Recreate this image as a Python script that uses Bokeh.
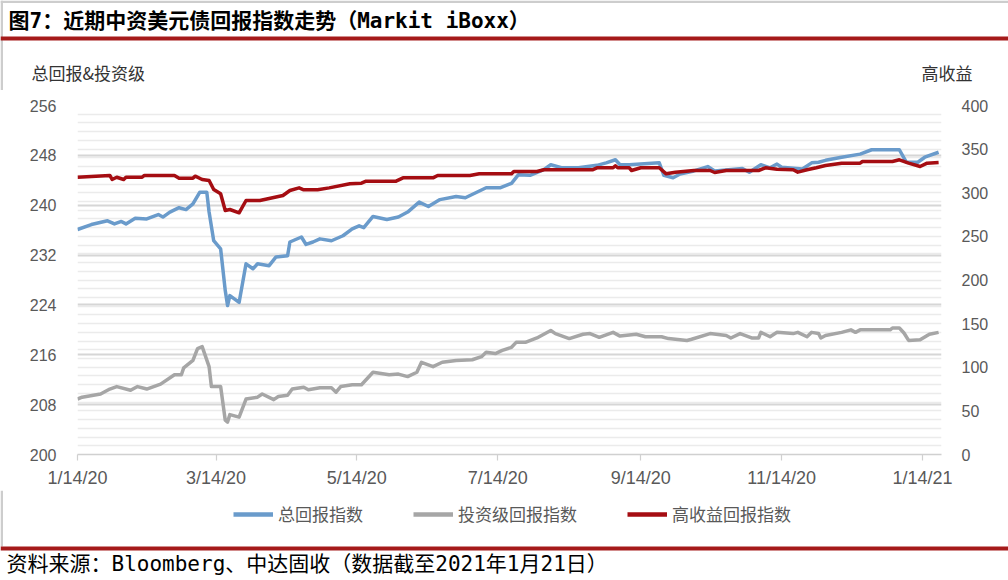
import pandas as pd
from bokeh.plotting import figure
from bokeh.layouts import column
from bokeh.models import (Range1d, LinearAxis, FixedTicker, Grid, Legend, LegendItem, Label)
from bokeh.embed import file_html
from bokeh.resources import INLINE

# ---------------- data ----------------
total_dates = ["2020-01-14", "2020-01-20", "2020-01-27", "2020-01-30", "2020-02-02", "2020-02-04",
               "2020-02-08", "2020-02-13", "2020-02-18", "2020-02-20", "2020-02-23", "2020-02-27",
               "2020-03-01", "2020-03-04", "2020-03-07", "2020-03-10", "2020-03-11", "2020-03-13",
               "2020-03-16", "2020-03-18", "2020-03-19", "2020-03-20", "2020-03-24", "2020-03-27",
               "2020-03-30", "2020-04-01", "2020-04-06", "2020-04-09", "2020-04-14", "2020-04-15",
               "2020-04-20", "2020-04-22", "2020-04-25", "2020-04-28", "2020-05-03", "2020-05-08",
               "2020-05-12", "2020-05-15", "2020-05-17", "2020-05-21", "2020-05-27", "2020-06-01",
               "2020-06-05", "2020-06-10", "2020-06-14", "2020-06-19", "2020-06-26", "2020-06-30",
               "2020-07-09", "2020-07-15", "2020-07-20", "2020-07-23", "2020-07-28", "2020-08-03",
               "2020-08-06", "2020-08-11", "2020-08-18", "2020-08-26", "2020-08-30", "2020-09-03",
               "2020-09-05", "2020-09-09", "2020-09-22", "2020-09-24", "2020-09-28", "2020-10-01",
               "2020-10-07", "2020-10-13", "2020-10-16", "2020-10-28", "2020-10-31", "2020-11-05",
               "2020-11-09", "2020-11-12", "2020-11-14", "2020-11-23", "2020-11-27", "2020-11-30",
               "2020-12-03", "2020-12-10", "2020-12-18", "2020-12-23", "2021-01-04", "2021-01-07",
               "2021-01-12", "2021-01-15", "2021-01-21"]
total_values = [236.1, 236.9, 237.5, 237.0, 237.4, 237.0,
                237.9, 237.8, 238.5, 238.1, 238.9, 239.6,
                239.3, 240.2, 242.1, 242.1, 238.9, 234.3,
                233.0, 226.3, 223.9, 225.5, 224.4, 230.6,
                229.8, 230.6, 230.3, 231.7, 231.9, 234.1,
                234.9, 233.7, 234.1, 234.6, 234.3, 235.1,
                236.2, 236.7, 236.4, 238.2, 237.7, 238.1,
                238.9, 240.5, 239.8, 240.9, 241.4, 241.2,
                242.8, 242.8, 243.5, 244.9, 244.8, 245.7,
                246.5, 246.0, 246.0, 246.4, 246.8, 247.3,
                246.5, 246.5, 246.8, 244.8, 244.4, 245.0,
                245.5, 246.2, 245.5, 245.9, 245.3, 246.5,
                246.0, 246.6, 246.1, 245.8, 246.8, 246.9,
                247.2, 247.7, 248.2, 248.9, 248.9, 246.9,
                246.9, 247.7, 248.5]

ig_dates = ["2020-01-14", "2020-01-16", "2020-01-24", "2020-01-28", "2020-01-31", "2020-02-06",
            "2020-02-09", "2020-02-13", "2020-02-19", "2020-02-25", "2020-02-28", "2020-02-29",
            "2020-03-04", "2020-03-06", "2020-03-08", "2020-03-11", "2020-03-12", "2020-03-16",
            "2020-03-18", "2020-03-19", "2020-03-20", "2020-03-24", "2020-03-27", "2020-04-01",
            "2020-04-03", "2020-04-08", "2020-04-10", "2020-04-14", "2020-04-16", "2020-04-21",
            "2020-04-23", "2020-04-28", "2020-05-03", "2020-05-05", "2020-05-07", "2020-05-12",
            "2020-05-16", "2020-05-21", "2020-05-28", "2020-06-01", "2020-06-05", "2020-06-09",
            "2020-06-11", "2020-06-16", "2020-06-20", "2020-06-26", "2020-07-03", "2020-07-07",
            "2020-07-09", "2020-07-13", "2020-07-16", "2020-07-20", "2020-07-22", "2020-07-26",
            "2020-07-31", "2020-08-04", "2020-08-06", "2020-08-08", "2020-08-14", "2020-08-20",
            "2020-08-23", "2020-08-27", "2020-09-02", "2020-09-05", "2020-09-12", "2020-09-16",
            "2020-09-23", "2020-09-26", "2020-10-04", "2020-10-06", "2020-10-14", "2020-10-21",
            "2020-10-23", "2020-10-27", "2020-11-01", "2020-11-04", "2020-11-05", "2020-11-09",
            "2020-11-12", "2020-11-19", "2020-11-21", "2020-11-25", "2020-11-27", "2020-11-30",
            "2020-12-01", "2020-12-03", "2020-12-10", "2020-12-14", "2020-12-16", "2020-12-18",
            "2020-12-31", "2021-01-01", "2021-01-04", "2021-01-06", "2021-01-08", "2021-01-13",
            "2021-01-17", "2021-01-21"]
ig_values = [208.9, 209.2, 209.7, 210.5, 210.9, 210.3,
             210.9, 210.5, 211.3, 212.8, 212.8, 213.9,
             215.1, 217.0, 217.3, 214.1, 210.9, 210.9,
             205.5, 205.2, 206.4, 206.0, 208.9, 209.2,
             209.7, 208.8, 209.3, 209.5, 210.5, 210.8,
             210.4, 210.7, 210.7, 210.0, 210.9, 211.2,
             211.2, 213.2, 212.8, 212.9, 212.5, 213.2,
             214.8, 214.1, 214.8, 215.1, 215.2, 215.7,
             216.4, 216.2, 216.7, 217.2, 218.0, 218.0,
             218.7, 219.5, 219.9, 219.4, 218.6, 219.3,
             219.4, 218.8, 219.6, 219.0, 219.3, 218.9,
             218.9, 218.6, 218.3, 218.5, 219.4, 219.1,
             218.7, 219.4, 218.7, 218.7, 219.6, 218.9,
             219.6, 219.4, 219.6, 218.9, 219.6, 219.4,
             218.7, 219.1, 219.6, 220.0, 219.6, 220.0,
             220.0, 220.3, 220.3, 219.5, 218.3, 218.4,
             219.3, 219.6]

hy_dates = ["2020-01-14", "2020-01-28", "2020-01-29", "2020-01-31", "2020-02-03", "2020-02-04",
            "2020-02-11", "2020-02-12", "2020-02-25", "2020-02-27", "2020-03-04", "2020-03-05",
            "2020-03-08", "2020-03-11", "2020-03-13", "2020-03-16", "2020-03-18", "2020-03-20",
            "2020-03-24", "2020-03-27", "2020-04-02", "2020-04-12", "2020-04-15", "2020-04-19",
            "2020-04-21", "2020-04-27", "2020-05-02", "2020-05-11", "2020-05-16", "2020-05-18",
            "2020-05-31", "2020-06-03", "2020-06-16", "2020-06-18", "2020-07-02", "2020-07-06",
            "2020-07-20", "2020-07-21", "2020-07-31", "2020-08-03", "2020-08-24", "2020-08-26",
            "2020-09-02", "2020-09-03", "2020-09-04", "2020-09-09", "2020-09-10", "2020-09-14",
            "2020-09-22", "2020-09-25", "2020-09-29", "2020-10-07", "2020-10-14", "2020-10-16",
            "2020-10-21", "2020-11-04", "2020-11-07", "2020-11-12", "2020-11-19", "2020-11-21",
            "2020-11-25", "2020-11-29", "2020-12-03", "2020-12-10", "2020-12-18", "2020-12-19",
            "2021-01-01", "2021-01-04", "2021-01-08", "2021-01-13", "2021-01-16", "2021-01-21"]
hy_values = [317.8, 319.8, 315.2, 317.8, 315.2, 317.8,
             317.8, 319.8, 319.8, 316.7, 316.7, 319.0,
             315.2, 314.0, 303.7, 298.8, 279.7, 280.8,
             277.0, 291.1, 291.1, 296.9, 302.6, 305.6,
             303.4, 303.4, 305.6, 310.3, 311.0, 313.3,
             313.3, 317.1, 317.1, 319.8, 319.8, 321.7,
             321.7, 324.4, 324.4, 326.3, 326.3, 328.6,
             328.6, 330.9, 328.6, 328.6, 325.5, 328.6,
             328.6, 321.7, 323.6, 325.5, 325.5, 323.2,
             325.5, 325.5, 328.6, 327.0, 326.3, 323.6,
             326.3, 328.6, 331.2, 333.9, 333.9, 335.8,
             335.8, 337.8, 333.9, 330.1, 333.9, 334.7]

x_tick_dates = ["2020-01-14", "2020-03-14", "2020-05-14", "2020-07-14", "2020-09-14",
                "2020-11-14", "2021-01-14"]
x_tick_labels = ["1/14/20", "3/14/20", "5/14/20", "7/14/20", "9/14/20", "11/14/20", "1/14/21"]
left_ticks = [200, 208, 216, 224, 232, 240, 248, 256]
right_ticks = [0, 50, 100, 150, 200, 250, 300, 350, 400]
right_minor_step = 10

series_names = ["总回报指数", "投资级回报指数", "高收益回报指数"]
title_text = "图7：近期中资美元债回报指数走势（Markit iBoxx）"
left_title = "总回报&投资级"
right_title = "高收益"
source_text = "资料来源：Bloomberg、中达固收（数据截至2021年1月21日）"

# ---------------- styles ----------------
BLUE = "#6a9bcb"
GRAY = "#a6a6a6"
RED = "#a50d12"
DARK_RED = "#a51a1a"
BORDER = "#cdcdcd"
TICK_COLOR = "#595959"
CJK = "Noto Sans CJK SC"
MONO_CJK = "DejaVu Sans Mono, Noto Sans CJK SC"
W = 1008
HEADER_H = 90
FOOTER_H = 90

L0, L1 = left_ticks[0], left_ticks[-1]
R0, R1 = right_ticks[0], right_ticks[-1]


def deco_figure(h):
    f = figure(width=W, height=h, x_range=Range1d(0, W), y_range=Range1d(h, 0),
               min_border=0, toolbar_location=None, output_backend="svg",
               x_axis_location=None, y_axis_location=None, frame_align=False)
    f.xgrid.visible = False
    f.ygrid.visible = False
    f.outline_line_color = None
    f.background_fill_color = "white"
    f.border_fill_color = "white"
    return f


# ---------------- header ----------------
header = deco_figure(HEADER_H)
header.quad(left=[0, 0], right=[W, 2.5], top=[0, 0], bottom=[2.5, HEADER_H],
            color=BORDER, line_color=None)
header.add_layout(Label(x=8, y=20, text=title_text, text_font=MONO_CJK, text_font_style="bold",
                        text_font_size="21px", text_color="black",
                        text_baseline="middle", text_align="left"))
header.quad(left=[0], right=[W], top=[36], bottom=[40], color=DARK_RED, line_color=None)
header.add_layout(Label(x=31, y=71.5, text=left_title, text_font=CJK, text_font_size="17px",
                        text_color="#333333", text_baseline="middle", text_align="left"))
header.add_layout(Label(x=921, y=71.5, text=right_title, text_font=CJK, text_font_size="17px",
                        text_color="#333333", text_baseline="middle", text_align="left"))

# ---------------- main chart ----------------
p = figure(frame_width=864, frame_height=349, x_axis_type="datetime",
           x_range=Range1d(pd.Timestamp("2020-01-14"), pd.Timestamp("2021-01-22 06:00")),
           y_range=Range1d(L0, L1), frame_align=False,
           output_backend="svg", toolbar_location=None,
           min_border_left=77, min_border_right=67, min_border_top=15, min_border_bottom=36)
p.outline_line_color = None
p.background_fill_color = "white"
p.border_fill_color = "white"
p.extra_y_ranges = {"hy": Range1d(R0, R1)}

# grids: left major lines (darker) + light lines at every 10 of the right axis
p.xgrid.visible = False
p.ygrid.ticker = FixedTicker(ticks=left_ticks)
p.ygrid.grid_line_color = "#d6d6d6"
p.ygrid.grid_line_width = 1.8
light_ticks = [L0 + (v - R0) * (L1 - L0) / (R1 - R0)
               for v in range(R0 + right_minor_step, R1, right_minor_step)]
light_grid = Grid(dimension=1, ticker=FixedTicker(ticks=light_ticks),
                  grid_line_color="#ebebeb", grid_line_width=1.3)
p.center.insert(0, light_grid)

# x axis
tick_ms = [pd.Timestamp(d).value / 1e6 for d in x_tick_dates]
xa = p.xaxis[0]
xa.ticker = FixedTicker(ticks=tick_ms)
xa.major_label_overrides = {t: lab for t, lab in zip(tick_ms, x_tick_labels)}
xa.axis_line_color = "#d0d0d0"
xa.axis_line_width = 1.6
xa.major_tick_line_color = "#d0d0d0"
xa.major_tick_line_width = 1.2
xa.major_tick_in = 0
xa.major_tick_out = 6
xa.minor_tick_line_color = None
xa.major_label_standoff = 7
xa.major_label_text_font = "Liberation Sans"
xa.major_label_text_font_size = "18px"
xa.major_label_text_color = TICK_COLOR

# left axis
ya = p.yaxis[0]
ya.ticker = FixedTicker(ticks=left_ticks)
ya.axis_line_color = None
ya.major_tick_line_color = None
ya.minor_tick_line_color = None
ya.major_label_standoff = 15
ya.major_label_text_font = "Liberation Sans"
ya.major_label_text_font_size = "16px"
ya.major_label_text_color = TICK_COLOR

# right axis
ra = LinearAxis(y_range_name="hy", ticker=FixedTicker(ticks=right_ticks))
ra.axis_line_color = None
ra.major_tick_line_color = None
ra.minor_tick_line_color = None
ra.major_label_standoff = 14
ra.major_label_text_font = "Liberation Sans"
ra.major_label_text_font_size = "16px"
ra.major_label_text_color = TICK_COLOR
p.add_layout(ra, "right")

# lines
p.line(pd.to_datetime(total_dates), total_values, line_color=BLUE, line_width=3.5,
       line_join="round")
p.line(pd.to_datetime(ig_dates), ig_values, line_color=GRAY, line_width=3.5,
       line_join="round")
p.line(pd.to_datetime(hy_dates), hy_values, line_color=RED, line_width=3.5,
       line_join="round", y_range_name="hy")

# ---------------- footer: legend, rule, source ----------------
footer = deco_figure(FOOTER_H)
footer.quad(left=[0], right=[2.5], top=[0], bottom=[56], color=BORDER, line_color=None)
# legend keys: off-canvas stand-ins carrying each series' line style
legend_keys = [footer.line(x=[-20, -10], y=[-20, -20], line_color=c, line_width=4.5)
               for c in (BLUE, GRAY, RED)]
legend = Legend(items=[LegendItem(label=n, renderers=[r])
                       for n, r in zip(series_names, legend_keys)],
                orientation="horizontal", location=(233, 54),
                label_text_font=CJK, label_text_font_size="17px", label_text_color=TICK_COLOR,
                glyph_width=40, glyph_height=18, label_standoff=5, spacing=50,
                padding=0, margin=0,
                border_line_color=None, background_fill_alpha=0)
footer.add_layout(legend)
footer.quad(left=[0], right=[W], top=[56], bottom=[60], color=DARK_RED, line_color=None)
footer.add_layout(Label(x=6, y=73.5, text=source_text, text_font=MONO_CJK, text_font_size="21px",
                        text_color="black", text_baseline="middle", text_align="left"))

layout = column(header, p, footer, spacing=0)
open("out.html", "w").write(file_html(layout, INLINE))
